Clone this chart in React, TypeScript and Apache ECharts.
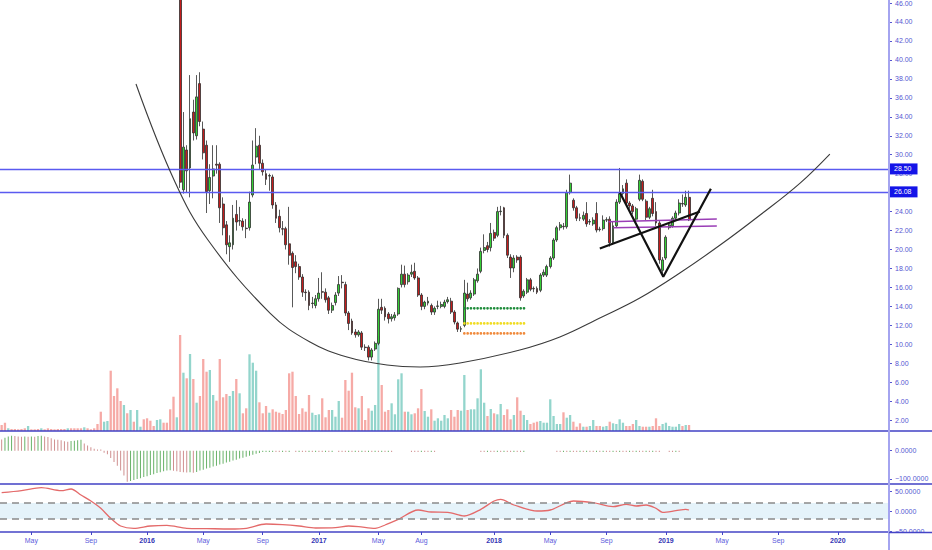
import * as echarts from "echarts";
import { useEffect, useRef } from "react";

// weekly bars, week 0 starts on this Monday
const START_UTC = Date.UTC(2015, 1, 23);
const WEEK_MS = 7 * 86400000;
const WEEK_COUNT = 269;
const FIRST_CANDLE_WEEK = 54;

const MONTH_NAMES = ["Jan", "Feb", "Mar", "Apr", "May", "Jun", "Jul", "Aug", "Sep", "Oct", "Nov", "Dec"];
const monthLabels = [
  "2015-05", "2015-09", "2016-01", "2016-05", "2016-09", "2017-01", "2017-05", "2017-08",
  "2018-01", "2018-05", "2018-09", "2019-01", "2019-05", "2019-09", "2020-01",
];

const priceTicks = [2, 4, 6, 8, 10, 12, 14, 16, 18, 20, 22, 24, 26, 28, 30, 32, 34, 36, 38, 40, 42, 44, 46];
const macdTicks = [0, -100];
const oscTicks = [50, 0, -50];
const oscBand = [20, -20];
const keyLevels = [28.5, 26.08];

// [open, close, low, high], one per week from FIRST_CANDLE_WEEK
const candles: number[][] = [
  [60, 27.1, 26.5, 62], [26.3, 30.8, 25.9, 34.5], [30.5, 28.3, 26.0, 31.0], [28.6, 33.8, 25.5, 38.4],
  [34.5, 32.3, 31.5, 35.8], [32.0, 36.1, 31.6, 38.4], [37.5, 33.5, 33.0, 38.7], [32.7, 30.2, 29.5, 33.5],
  [31.0, 26.1, 23.85, 31.5], [26.2, 27.6, 24.8, 29.0], [27.75, 28.5, 25.4, 31.0], [29.0, 28.9, 28.0, 31.0],
  [29.0, 24.4, 22.8, 29.2], [24.8, 22.3, 21.5, 25.5], [22.6, 20.5, 19.5, 23.0], [20.3, 20.7, 18.7, 21.5],
  [20.5, 23.3, 20.0, 24.7], [23.7, 22.9, 22.0, 25.2], [23.0, 23.05, 22.5, 24.5], [23.0, 22.4, 22.0, 23.3],
  [22.25, 22.2, 21.2, 23.2], [22.3, 25.0, 22.0, 26.1], [25.75, 28.9, 25.5, 31.5], [29.75, 30.9, 29.0, 32.8],
  [31.0, 29.1, 28.5, 32.0], [29.1, 28.2, 27.8, 29.5], [28.0, 27.4, 26.8, 28.4], [27.75, 27.8, 26.2, 28.0],
  [27.65, 24.7, 24.3, 27.9], [24.7, 23.3, 22.8, 25.0], [23.5, 22.3, 21.8, 24.2], [22.2, 22.15, 21.5, 23.0],
  [22.2, 20.5, 20.0, 22.4], [20.6, 19.4, 18.4, 24.5], [19.6, 18.1, 13.9, 19.8], [18.7, 18.2, 17.5, 19.4],
  [18.2, 17.1, 16.8, 18.5], [17.1, 15.5, 15.0, 17.4], [15.5, 15.45, 14.6, 15.8], [15.5, 14.1, 13.6, 15.7],
  [14.3, 14.35, 13.8, 15.0], [14.1, 14.8, 13.8, 15.2], [14.8, 15.4, 14.5, 17.0], [15.55, 15.5, 14.8, 17.6],
  [15.5, 14.7, 14.4, 15.9], [14.9, 13.6, 13.2, 15.1], [13.6, 14.1, 13.3, 14.4], [14.4, 15.2, 14.1, 15.5],
  [15.4, 16.3, 15.1, 17.2], [16.55, 16.5, 15.9, 17.3], [16.3, 13.3, 13.0, 16.6], [13.3, 12.2, 11.5, 13.5],
  [12.45, 11.2, 11.0, 12.7], [11.3, 11.0, 10.7, 11.6], [11.0, 11.3, 10.8, 11.5], [11.2, 9.7, 9.4, 11.4],
  [9.7, 9.65, 9.3, 10.0], [9.7, 8.65, 8.3, 9.9], [8.65, 9.4, 8.3, 9.6], [9.5, 10.1, 9.3, 10.3],
  [10.1, 13.7, 9.9, 14.8], [13.9, 13.6, 13.2, 14.8], [13.8, 12.9, 12.5, 14.0], [13.2, 12.7, 12.2, 13.4],
  [12.7, 12.9, 12.4, 13.2], [12.8, 13.1, 12.5, 13.4], [13.2, 15.9, 13.0, 16.0], [16.3, 17.4, 16.0, 18.4],
  [17.4, 16.3, 16.0, 18.3], [16.6, 17.3, 16.3, 17.5], [17.4, 17.6, 17.1, 18.4], [17.7, 17.0, 16.8, 18.6],
  [17.0, 15.2, 15.0, 17.2], [15.2, 14.0, 13.6, 15.4], [14.0, 14.45, 13.7, 14.6], [14.35, 14.55, 14.1, 15.0],
  [14.1, 13.4, 13.1, 14.3], [13.4, 13.8, 13.1, 14.0], [14.0, 14.05, 13.7, 14.6], [14.0, 14.2, 13.8, 14.5],
  [14.0, 14.45, 13.8, 14.7], [14.5, 14.7, 14.3, 15.0], [14.55, 13.4, 13.2, 14.9], [13.4, 12.35, 12.1, 13.6],
  [12.25, 11.6, 11.3, 12.4], [11.6, 11.65, 11.3, 11.9], [12.0, 15.4, 11.8, 16.8], [15.3, 14.8, 14.5, 16.5],
  [14.9, 15.4, 14.7, 15.7], [15.3, 16.8, 15.1, 17.0], [16.7, 17.4, 16.5, 18.0], [17.7, 19.8, 17.5, 20.2],
  [19.9, 20.2, 19.6, 21.6], [20.4, 20.0, 19.7, 20.8], [20.2, 21.7, 19.8, 22.8], [21.8, 21.2, 20.9, 22.1],
  [21.5, 24.0, 21.3, 24.5], [24.0, 24.05, 23.6, 24.6], [24.4, 21.5, 21.2, 24.5], [21.5, 19.4, 19.1, 21.7],
  [19.2, 18.05, 17.0, 19.5], [18.05, 19.1, 17.6, 19.4], [19.2, 18.9, 18.6, 19.4], [19.2, 14.9, 14.6, 19.4],
  [15.1, 15.6, 14.9, 15.8], [15.5, 16.8, 15.3, 17.0], [16.8, 15.8, 15.6, 17.0], [15.9, 15.85, 15.5, 16.1],
  [15.9, 15.5, 15.3, 16.1], [15.7, 17.3, 15.5, 17.5], [17.3, 17.6, 17.1, 17.9], [17.3, 18.2, 17.1, 18.4],
  [18.2, 19.1, 18.0, 19.3], [19.1, 21.0, 18.9, 21.2], [21.0, 22.3, 20.8, 22.5], [22.3, 22.6, 22.0, 22.9],
  [22.45, 22.4, 22.1, 22.8], [22.4, 26.0, 22.2, 26.3], [26.0, 27.0, 25.8, 27.9], [25.2, 24.4, 24.1, 25.4],
  [24.4, 23.3, 23.0, 24.6], [23.35, 23.3, 23.0, 23.8], [23.2, 23.6, 23.0, 24.0], [23.8, 22.7, 22.4, 25.0],
  [22.9, 22.95, 22.6, 23.2], [22.7, 23.1, 22.5, 23.4], [23.8, 22.05, 21.8, 25.0], [22.15, 22.1, 21.9, 22.4],
  [22.2, 23.1, 22.0, 23.6], [23.1, 23.15, 22.9, 23.4], [23.2, 20.7, 20.3, 23.5], [20.7, 22.5, 20.5, 23.0],
  [22.5, 25.0, 22.3, 25.3], [25.0, 25.9, 24.8, 28.6], [25.9, 26.4, 25.7, 26.8], [27.0, 24.9, 24.6, 27.4],
  [24.9, 24.6, 24.3, 25.1], [24.6, 24.0, 23.7, 24.8], [23.2, 24.3, 23.0, 24.5], [25.3, 27.3, 25.1, 27.9],
  [27.2, 25.3, 25.1, 27.4], [25.1, 23.4, 23.1, 25.3], [23.4, 24.3, 23.2, 24.5], [25.4, 23.8, 23.5, 26.3],
  [24.0, 22.8, 22.5, 25.0], [22.8, 18.9, 18.5, 23.0], [17.8, 18.9, 17.3, 19.2], [19.1, 21.3, 18.9, 21.5],
  [22.3, 22.6, 22.1, 22.8], [22.5, 23.3, 22.3, 23.5], [23.3, 23.85, 23.1, 24.1], [23.85, 24.9, 23.6, 25.3],
  [24.85, 24.8, 24.5, 25.8], [24.7, 25.5, 24.5, 26.2], [25.5, 23.13, 23.0, 26.2],
];

// volume before the first visible candle, and its colour (u = up, d = down)
const earlyVolume = [
  6.0, 8.3, 2.7, 2.0, 2.0, 1.7, 2.0, 2.7, 5.0, 1.7, 1.7, 2.0, 2.7, 1.7, 2.7, 2.0, 1.7, 2.0, 2.0, 2.0,
  2.7, 2.7, 2.7, 2.7, 2.7, 3.7, 2.7, 1.7, 2.7, 7.0, 19.3, 9.3, 10.0, 60.3, 35.0, 42.7, 30.0, 26.0, 17.7, 21.0,
  9.3, 21.0, 4.3, 11.7, 12.7, 10.3, 5.0, 11.0, 11.7, 8.3, 8.3, 21.7, 34.3, 13.7,
];
const earlyVolumeDir = "ddudddddud" + "dduddddddd" + "uddddudddd" + "duuddddudu" + "duudddduud" + "dddu";

// volume alongside each candle
const volume = [
  96, 58.3, 52.7, 77, 52, 28.3, 35, 72, 59.3, 61, 36, 30.3, 72, 33.7, 37, 35, 40, 52, 37.7, 17.7,
  22.7, 76.7, 68.3, 60.3, 28.7, 17.7, 25, 18.3, 21.7, 19.3, 18.3, 17, 21, 57.7, 59.3, 35, 17, 22.7, 19.3, 36,
  18.3, 16, 16.7, 32.7, 13.7, 21, 21, 14.3, 30, 13.3, 51, 40.3, 58.3, 23.7,
  22.7, 35, 11, 22.7, 20.3, 26, 95, 46, 19.3, 21, 27.7, 16.7, 51.7, 57.7, 19.3, 19.3, 16.7, 17.7, 22.7, 42,
  20, 14.3, 21.7, 10.3, 12.7, 10.3, 16, 12.7, 21, 14.3, 21, 20.3, 56, 21, 21.7, 21.7, 32.7, 61.7, 28.3, 15,
  22, 17.7, 16.7, 27, 16, 21.7, 11.7, 16, 33.7, 20.3, 16, 11, 7, 8.3, 9.3, 10, 8.3, 8.3, 31.7, 15,
  7, 7, 18.7, 13.3, 16, 9.3, 4.3, 7.7, 4.3, 4.3, 5, 11, 5, 5, 4.3, 5, 9.3, 7.7, 7, 11.7,
  8.3, 5, 5, 7, 11, 5, 4.3, 4.3, 4.3, 5, 12.7, 5, 7, 8.3, 5, 4.3, 4.3, 7, 5, 6, 6,
];

// oscillator histogram, one per week from week 0
const macdHist = [
  40, 46, 50, 53, 52, 50, 49, 50, 49, 50, 49, 52, 53, 50, 48, 44, 40, 39, 37, 33,
  32, 34, 35, 37, 39, 25, 18, 12, 7, 3, 0.5, -7, -13, -26, -40, -53, -70, -88, -110, -107,
  -104, -100, -97, -93, -90, -86, -83, -79, -76, -73, -70, -69, -71, -73, -75, -76, -77, -76, -78, -75,
  -70, -67, -63, -60, -56, -53, -49, -46, -42, -39, -35, -32, -28, -25, -21, -18, -14, -11, -8, -5,
  -4, -2, -1, -2, -3, -2, -3, -2, 0, -3, -2, -3, -3, -2, -3, -2, -3, -3, -2, -3,
  -2, 0, -2, -3, -3, -2, -3, -2, -3, -2, -3, -2, -3, -2, -3, -2, -3, -2, -2, 0,
  0, 0, 0, 0, -2, -2, -3, -2, -2, -3, -2, -2, 0, 0, 0, 0, 0, 0, 0, 0,
  0, 0, 0, 0, 0, -2, -3, -2, -2, -3, -2, -3, -2, -2, -3, -2, -2, -3, -2, 0,
  0, 0, 0, 0, 0, 0, 0, 0, -2, -3, -2, -3, -2, -2, -3, -2, -3, -2, -2, -3,
  -2, -3, -2, -2, -3, -2, -3, -2, -2, -3, -2, -3, -2, -2, -3, -2, -3, -2, -2, -3,
  0, 0, -2, -3, -2, -3, 0, 0, 0,
];

// lower oscillator line: [week, value]
const oscPoints = [
  [0, 45.8], [6, 50.8], [12, 58.3], [18, 50.8], [21, 55], [24, 40], [27, 25], [30, 6.7], [33, -18.3],
  [36, -37.5], [40, -43.3], [45, -37.5], [50, -35.8], [56, -43.3], [62, -44], [69, -45], [74, -43.3],
  [80, -32.5], [85, -34], [90, -37.5], [95, -42.5], [101, -41.7], [105, -37.5], [108, -39], [113, -43.3],
  [116, -35], [120, -20.8], [126, 2.5], [130, -2.5], [135, -3.3], [140, -12.5], [145, 4.2], [149, 25],
  [151, 29.2], [155, 15], [162, 0], [166, 2.5], [171, 20.8], [173, 25], [179, 20.8], [185, 10.8],
  [189, 16.7], [192, 12.5], [195, 15], [198, 6.7], [200, -3.3], [204, 0.8], [207, 4.2], [208, 2.5],
];

// drawings: [week, price]
const arcPoints = [
  [40.65, 37.46], [52.45, 27.12], [62.43, 21.0], [81.19, 13.3], [93.3, 10.24], [104.5, 8.66],
  [116.6, 7.81], [126.6, 7.6], [138.7, 8.03], [156.8, 9.4], [168.9, 10.77], [181.0, 12.77],
  [193.1, 14.88], [205.2, 17.52], [217.4, 20.47], [229.5, 23.64], [241.6, 27.01], [250.6, 30.07],
];
const trendLine = [[181, 20.1], [211.3, 24.0]];
const vPattern = [[187.1, 26.0], [200.2, 17.13], [214.6, 26.4]];
const channelUpper = [[183.6, 22.93], [216.4, 23.22]];
const channelLower = [[185.1, 22.3], [216.4, 22.48]];
const dotWeeks = [140, 159];
const dotLevels = [13.8, 12.2, 11.15];

const FONT = "'Liberation Sans', Arial, sans-serif";
const AXIS_TEXT = "#5656d2";
const UP = "#35cf35";
const DOWN = "#c41c1c";
const dotColors = ["#1f8c3b", "#f0dc22", "#f08a3c"];

const weeks = Array.from({ length: WEEK_COUNT }, (_, i) =>
  new Date(START_UTC + i * WEEK_MS).toISOString().slice(0, 10)
);

const labelAt = new Map<number, string>();
monthLabels.forEach((m) => {
  const [y, mo] = m.split("-").map(Number);
  const idx = Math.floor((Date.UTC(y, mo - 1, 1) - START_UTC) / WEEK_MS);
  labelAt.set(idx, mo === 1 ? `{y|${y}}` : `{m|${MONTH_NAMES[mo - 1]}}`);
});

const fmtNum = (v: number, digits: number) => (v < 0 ? "\u2212" : "") + Math.abs(v).toFixed(digits);

function buildOption(): echarts.EChartsOption {
  const candleData = weeks.map((_, i) => {
    const c = candles[i - FIRST_CANDLE_WEEK];
    return c ? c : ["-", "-", "-", "-"];
  });

  const volumeData = weeks.map((_, i) => {
    if (i < FIRST_CANDLE_WEEK) {
      return {
        value: earlyVolume[i],
        itemStyle: { color: earlyVolumeDir[i] === "u" ? "#93d5cc" : "#f6aaa6" },
      };
    }
    const c = candles[i - FIRST_CANDLE_WEEK];
    const v = volume[i - FIRST_CANDLE_WEEK];
    if (!c || v === undefined) return "-";
    return { value: v, itemStyle: { color: c[1] >= c[0] ? "#93d5cc" : "#f6aaa6" } };
  });

  const macdData = weeks.map((_, i) => {
    const v = macdHist[i];
    if (v === undefined || v === 0) return "-";
    const prev = i > 0 ? macdHist[i - 1] : v;
    return { value: v, itemStyle: { color: v > prev ? "#68b268" : "#cf8f8f" } };
  });

  const lastClose = candles[candles.length - 1][1];

  const catAxis = (grid: number, show: boolean) => ({
    type: "category" as const,
    gridIndex: grid,
    data: weeks,
    boundaryGap: true,
    axisLine: { show, onZero: false, lineStyle: { color: "#4444c6", width: 1.5 } },
    axisTick: {
      show,
      alignWithLabel: true,
      length: 3,
      interval: (i: number) => labelAt.has(i),
      lineStyle: { color: "#4444c6" },
    },
    axisLabel: {
      show,
      interval: (i: number) => labelAt.has(i),
      formatter: (_v: string, i: number) => labelAt.get(i) ?? "",
      margin: 5,
      fontFamily: FONT,
      rich: {
        m: { color: "#5c5cdc", fontSize: 7, fontFamily: FONT },
        y: { color: "#3434b4", fontSize: 7, fontWeight: "bold" as const, fontFamily: FONT },
      },
    },
    splitLine: { show: false },
  });

  const valAxis = (grid: number, min: number, max: number, ticks: number[], digits: number) => ({
    type: "value" as const,
    gridIndex: grid,
    position: "right" as const,
    min,
    max,
    splitLine: { show: false },
    axisLine: { show: false, onZero: false },
    axisTick: { show: true, length: 3, customValues: ticks, lineStyle: { color: AXIS_TEXT } },
    axisLabel: {
      customValues: ticks,
      formatter: (v: number) => fmtNum(v, digits),
      color: AXIS_TEXT,
      fontSize: 7,
      fontFamily: FONT,
      margin: 6,
    },
  });

  const grid = (top: number, height: number) => ({
    left: 0,
    right: 43,
    top,
    height,
    containLabel: false,
    outerBoundsMode: "none",
  });

  const drawing = (data: number[][], color: string, width: number, extra: object = {}) => ({
    type: "line" as const,
    xAxisIndex: 4,
    yAxisIndex: 0,
    data,
    symbol: "none",
    silent: true,
    clip: true,
    lineStyle: { color, width },
    z: 5,
    ...extra,
  });

  const priceLabel = (bg: string) => ({
    show: true,
    position: "end" as const,
    distance: 0,
    formatter: (p: any) => Number(p.value).toFixed(2),
    color: "#ffffff",
    backgroundColor: bg,
    padding: [2, 6, 2, 5],
    fontSize: 7,
    fontFamily: FONT,
  });

  return {
    animation: false,
    backgroundColor: "#ffffff",
    textStyle: { fontFamily: FONT },
    grid: [grid(0, 431), grid(300, 131), grid(431, 53), grid(484, 48)] as any,
    xAxis: [
      catAxis(0, false),
      catAxis(1, false),
      catAxis(2, false),
      catAxis(3, true),
      {
        type: "value",
        gridIndex: 0,
        min: -0.5,
        max: WEEK_COUNT - 0.5,
        show: false,
        axisLine: { onZero: false },
      },
    ] as any,
    yAxis: [
      valAxis(0, 0.855, 46.32, priceTicks, 2),
      { type: "value", gridIndex: 1, min: 0, max: 131, show: false, axisLine: { onZero: false } },
      valAxis(2, -117.7, 69.6, macdTicks, 4),
      valAxis(3, -52.5, 67.5, oscTicks, 4),
    ] as any,
    series: [
      {
        type: "bar",
        xAxisIndex: 1,
        yAxisIndex: 1,
        data: volumeData as any,
        barWidth: 2.3,
        silent: true,
      },
      {
        type: "candlestick",
        xAxisIndex: 0,
        yAxisIndex: 0,
        data: candleData as any,
        barWidth: 2.4,
        clip: true,
        silent: true,
        itemStyle: {
          color: UP,
          color0: DOWN,
          borderColor: "#2e2e2e",
          borderColor0: "#2e2e2e",
          borderWidth: 0.8,
        },
        markLine: {
          symbol: "none",
          silent: true,
          data: [
            ...keyLevels.map((v) => ({
              yAxis: v,
              lineStyle: { color: "#5a5af0", width: 1.4, type: "solid" as const },
              label: priceLabel("#1414e8"),
            })),
            {
              yAxis: lastClose,
              lineStyle: { color: "#ff0000", width: 0, opacity: 0 },
              label: priceLabel("#f01010"),
            },
          ],
        },
      },
      drawing(arcPoints, "#3a3a3a", 1.1, { smooth: 0.4 }),
      drawing(channelUpper, "#9a3db6", 1.6),
      drawing(channelLower, "#9a3db6", 1.6),
      drawing(trendLine, "#111111", 2.2),
      drawing(vPattern, "#111111", 2.2),
      ...dotLevels.map((lv, i) =>
        drawing(
          dotWeeks.map((w) => [w, lv]),
          dotColors[i],
          2.7,
          { lineStyle: { color: dotColors[i], width: 2.7, type: [0.01, 3.305], cap: "round" } }
        )
      ),
      {
        type: "bar",
        xAxisIndex: 2,
        yAxisIndex: 2,
        data: macdData as any,
        barWidth: 1,
        barMinHeight: 1.2,
        silent: true,
      },
      {
        type: "line",
        xAxisIndex: 3,
        yAxisIndex: 3,
        data: oscPoints,
        symbol: "none",
        smooth: 0.3,
        silent: true,
        lineStyle: { color: "#e46a6a", width: 1.3 },
        z: 4,
        markArea: {
          silent: true,
          itemStyle: { color: "#e5f3fa" },
          data: [[{ yAxis: oscBand[0] }, { yAxis: oscBand[1] }]],
        },
        markLine: {
          symbol: "none",
          silent: true,
          label: { show: false },
          lineStyle: { color: "#8a8a8a", width: 1.6, type: [7, 5] },
          data: oscBand.map((v) => ({ yAxis: v })),
        },
      },
    ] as any,
    graphic: [
      { type: "line", z: 50, shape: { x1: 0, y1: 431, x2: 932, y2: 431 }, style: { stroke: "#4141c4", lineWidth: 1.5 } },
      { type: "line", z: 50, shape: { x1: 0, y1: 484, x2: 932, y2: 484 }, style: { stroke: "#4141c4", lineWidth: 1.5 } },
      { type: "rect", z: 60, shape: { x: 890, y: 533, width: 42, height: 17 }, style: { fill: "#ffffff" } },
      { type: "line", z: 70, shape: { x1: 889, y1: 0, x2: 889, y2: 550 }, style: { stroke: "#a4a4f0", lineWidth: 2 } },
      { type: "line", z: 70, shape: { x1: 889, y1: 532.5, x2: 932, y2: 532.5 }, style: { stroke: "#4444c6", lineWidth: 1.5 } },
    ],
  };
}

export default function App() {
  const chartRef = useRef<HTMLDivElement | null>(null);

  useEffect(() => {
    if (!chartRef.current) return;
    const chart = echarts.init(chartRef.current, null, { renderer: "svg" });
    chart.setOption(buildOption());
    return () => {
      chart.dispose();
    };
  }, []);

  return (
    <div
      ref={chartRef}
      style={{ position: "fixed", left: 0, top: 0, width: 932, height: 550, background: "#fff" }}
    />
  );
}
